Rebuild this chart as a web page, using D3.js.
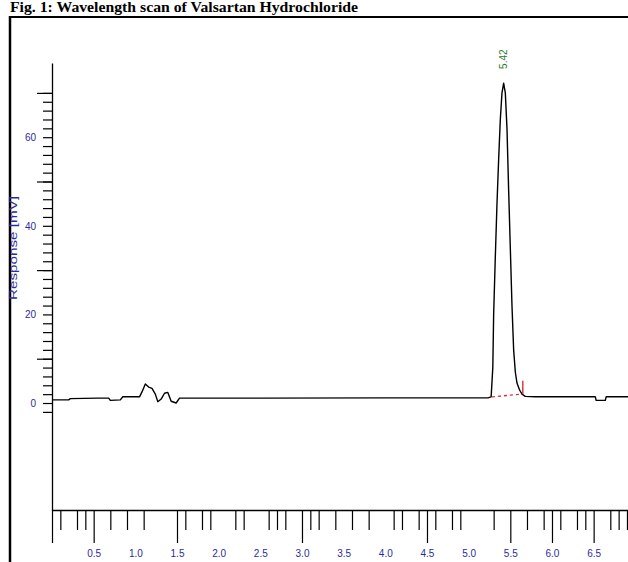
<!DOCTYPE html>
<html>
<head>
<meta charset="utf-8">
<script src="https://cdn.jsdelivr.net/npm/d3@7"></script>
<style>
  html, body { margin: 0; padding: 0; background: #fff; }
  svg { display: block; }
</style>
</head>
<body>
<svg id="chart" width="628" height="562"></svg>
<script>
// ---- data ----
const titleText = "Fig. 1: Wavelength scan of Valsartan Hydrochloride";
const yAxisTitle = "Response [mV]";

const timeMin = [0.00, 0.20, 0.22, 0.55, 0.68, 0.70, 0.82, 0.85, 1.05, 1.08, 1.12, 1.16, 1.20, 1.24, 1.27, 1.31, 1.35, 1.39, 1.43, 1.49, 1.53,
  2.50, 4.00, 5.24, 5.27, 5.29, 5.30, 5.32, 5.34, 5.36, 5.38, 5.40, 5.42, 5.44, 5.46, 5.48, 5.50, 5.52, 5.54, 5.56, 5.58, 5.61, 5.64, 5.68, 5.80,
  6.52, 6.53, 6.64, 6.65, 7.00];
const responseMV = [0.7, 0.7, 1.0, 1.1, 1.1, 0.6, 0.7, 1.4, 1.4, 2.5, 4.3, 3.6, 3.3, 2.0, 0.3, 0.9, 2.2, 2.4, 0.4, 0.0, 1.1,
  1.1, 1.15, 1.2, 1.4, 8, 20, 33, 45, 55, 64, 70, 72.2, 70, 62, 48, 35, 22, 12, 7, 4.5, 3.0, 2.0, 1.5, 1.4,
  1.4, 0.6, 0.6, 1.4, 1.4];

const peakTimes = [5.42];
const peakLabels = ["5.42"];
const peakHeights = [72.2];

const integStart = [5.28, 1.4];
const integEnd = [5.64, 2.0];
const markerTime = 5.65;
const markerRange = [2.0, 5.0];

const xMinorTicks = [0.1, 0.3, 0.4, 0.7, 0.9, 1.1, 1.6, 1.8, 1.9, 2.2, 2.3, 2.6, 2.7, 2.8, 3.1, 3.2, 3.4, 3.6, 3.8, 4.1, 4.2, 4.4, 4.6, 4.8, 4.9, 5.3, 5.7, 5.9, 6.1, 6.3, 6.4, 6.7, 6.8, 6.9];
const xMajorTicks = [0, 0.5, 1.5, 3.0, 4.5, 5.5, 6.0, 6.5];
const xTickLabels = ["0.5", "1.0", "1.5", "2.0", "2.5", "3.0", "3.5", "4.0", "4.5", "5.0", "5.5", "6.0", "6.5"];
const xLabelValues = [0.5, 1.0, 1.5, 2.0, 2.5, 3.0, 3.5, 4.0, 4.5, 5.0, 5.5, 6.0, 6.5];

const yMinorTicks = d3.range(-2, 71, 2);
const yMajorTicks = [10, 30, 50, 70];
const yLabelValues = [0, 20, 40, 60];
const yTickLabels = ["0", "20", "40", "60"];

// ---- drawing ----
const svg = d3.select("#chart");
const blue = "#2b2ba0";

const x = d3.scaleLinear().domain([0, 7]).range([52, 52 + 7 * 83.33]);
const y = d3.scaleLinear().domain([-24.15, 76.75]).range([510, 63]);

// title
svg.append("text")
  .attr("x", 10).attr("y", 12)
  .attr("font-family", "Liberation Serif, Times New Roman, serif")
  .attr("font-weight", "bold")
  .attr("font-size", 15)
  .attr("textLength", 348)
  .attr("lengthAdjust", "spacingAndGlyphs")
  .attr("fill", "#000")
  .text(titleText);

// frame (left and top edges)
svg.append("line").attr("x1", 10).attr("x2", 10).attr("y1", 16).attr("y2", 562)
  .attr("stroke", "#000").attr("stroke-width", 2.5);
svg.append("line").attr("x1", 9).attr("x2", 628).attr("y1", 17).attr("y2", 17)
  .attr("stroke", "#000").attr("stroke-width", 2);

// x axis: minor ticks, major ticks, labels
const gx = svg.append("g").attr("transform", `translate(0,${y.range()[0]})`);
gx.append("g").call(d3.axisBottom(x).tickValues(xMinorTicks).tickSize(20).tickSizeOuter(0).tickFormat(""));
gx.append("g").call(d3.axisBottom(x).tickValues(xMajorTicks).tickSize(33).tickSizeOuter(0).tickFormat(""))
  .select(".domain").remove();
const xl = gx.append("g").call(d3.axisBottom(x).tickValues(xLabelValues).tickSize(0)
  .tickFormat((d, i) => xTickLabels[i]));
xl.select(".domain").remove();
xl.selectAll("text").attr("y", 47).attr("dy", 0)
  .attr("fill", blue).attr("font-size", 10).attr("font-family", "Liberation Sans, Arial, sans-serif");

// y axis
const gy = svg.append("g").attr("transform", `translate(${x(0)},0)`);
gy.append("g").call(d3.axisLeft(y).tickValues(yMinorTicks).tickSize(9).tickSizeOuter(0).tickFormat(""));
gy.append("g").call(d3.axisLeft(y).tickValues(yMajorTicks).tickSize(15).tickSizeOuter(0).tickFormat(""))
  .select(".domain").remove();
const yl = gy.append("g").call(d3.axisLeft(y).tickValues(yLabelValues).tickSize(0).tickPadding(16)
  .tickFormat((d, i) => yTickLabels[i]));
yl.select(".domain").remove();
yl.selectAll("text").attr("fill", blue).attr("font-size", 10).attr("font-family", "Liberation Sans, Arial, sans-serif");

svg.selectAll(".domain").attr("stroke", "#000").attr("stroke-width", 1.3);
svg.selectAll(".tick line").attr("stroke", "#000").attr("stroke-width", 1.2);

// y axis title
svg.append("text")
  .attr("transform", `translate(17,${y(35)}) rotate(-90)`)
  .attr("text-anchor", "middle")
  .attr("fill", blue)
  .attr("font-size", 11)
  .attr("textLength", 104)
  .attr("lengthAdjust", "spacingAndGlyphs")
  .attr("font-family", "Liberation Sans, Arial, sans-serif")
  .text(yAxisTitle);

// chromatogram trace
const pts = timeMin.map((t, i) => [t, responseMV[i]]);
svg.append("path")
  .datum(pts)
  .attr("fill", "none")
  .attr("stroke", "#000")
  .attr("stroke-width", 1.4)
  .attr("stroke-linejoin", "round")
  .attr("d", d3.line().x(d => x(d[0])).y(d => y(d[1])));

// integration baseline and marker
svg.append("line")
  .attr("x1", x(integStart[0])).attr("y1", y(integStart[1]))
  .attr("x2", x(integEnd[0])).attr("y2", y(integEnd[1]))
  .attr("stroke", "#e03030").attr("stroke-width", 1.3).attr("stroke-dasharray", "3,3");
svg.append("line")
  .attr("x1", x(markerTime)).attr("x2", x(markerTime))
  .attr("y1", y(markerRange[0])).attr("y2", y(markerRange[1]))
  .attr("stroke", "#d02020").attr("stroke-width", 1.3);

// peak label
svg.selectAll(".peaklabel").data(peakTimes).enter().append("text")
  .attr("class", "peaklabel")
  .attr("transform", (d, i) => `translate(${x(d) + 3.5},${y(peakHeights[i]) - 24}) rotate(-90)`)
  .attr("text-anchor", "middle")
  .attr("fill", "#2a7a2a")
  .attr("font-size", 10)
  .attr("font-family", "Liberation Sans, Arial, sans-serif")
  .text((d, i) => peakLabels[i]);
</script>
</body>
</html>
